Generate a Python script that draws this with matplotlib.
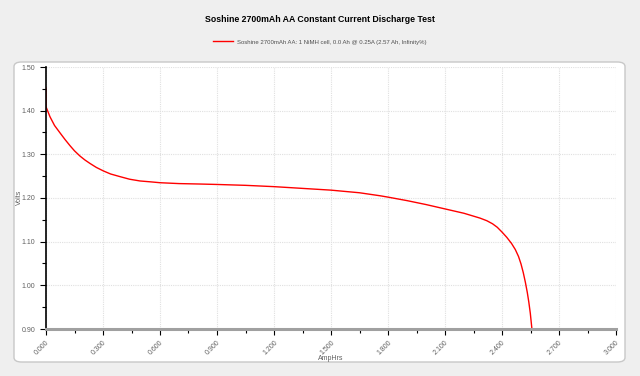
import numpy as np
import matplotlib.pyplot as plt
from matplotlib.patches import FancyBboxPatch
from matplotlib.ticker import MultipleLocator, FormatStrFormatter

plt.rcParams['font.family'] = ['Liberation Sans', 'DejaVu Sans']

# discharge curve
amp_hrs = [0.0, 0.0, 0.021, 0.045, 0.074, 0.10, 0.126, 0.15, 0.179, 0.205,
           0.232, 0.265, 0.302, 0.34, 0.389, 0.44, 0.495, 0.55, 0.6, 0.7,
           0.81, 0.9, 1.05, 1.2, 1.35, 1.5, 1.65, 1.76, 1.8, 1.9, 2.0, 2.1,
           2.2, 2.284, 2.32, 2.35, 2.375, 2.40, 2.425, 2.45, 2.47, 2.487,
           2.50, 2.512, 2.523, 2.533, 2.541, 2.549, 2.557]
volts = [1.452, 1.409, 1.386, 1.366, 1.349, 1.334, 1.320, 1.308, 1.296, 1.287,
         1.279, 1.270, 1.262, 1.255, 1.249, 1.243, 1.239, 1.237, 1.235, 1.233,
         1.232, 1.231, 1.229, 1.226, 1.222, 1.218, 1.212, 1.205, 1.202, 1.194,
         1.185, 1.175, 1.165, 1.154, 1.148, 1.141, 1.133, 1.122, 1.110, 1.096,
         1.082, 1.066, 1.049, 1.029, 1.007, 0.984, 0.962, 0.936, 0.902]

series_label = "Soshine 2700mAh AA: 1 NiMH cell, 0.0 Ah @ 0.25A (2.57 Ah, Infinity%)"
title = "Soshine 2700mAh AA Constant Current Discharge Test"

fig = plt.figure(figsize=(6.4, 3.76), dpi=100, facecolor='#efefef')

# white rounded panel behind the plot
panel = FancyBboxPatch((14 / 640, 1 - 362 / 376), 611 / 640, 300 / 376,
                       boxstyle="round,pad=0,rounding_size=0.012",
                       transform=fig.transFigure, facecolor='white',
                       edgecolor='#c8c8c8', linewidth=1.0, zorder=-5)
fig.patches.append(panel)

ax = fig.add_axes([46 / 640, 1 - 329 / 376, 570 / 640, 262 / 376], zorder=2)
ax.set_facecolor('none')
ax.plot(amp_hrs, volts, color='#ff0000', linewidth=1.0, label=series_label)

ax.set_xlim(0, 3.0)
ax.set_ylim(0.9, 1.5)
ax.xaxis.set_major_locator(MultipleLocator(0.3))
ax.xaxis.set_minor_locator(MultipleLocator(0.15))
ax.yaxis.set_major_locator(MultipleLocator(0.1))
ax.yaxis.set_minor_locator(MultipleLocator(0.05))
ax.xaxis.set_major_formatter(FormatStrFormatter('%.3f'))
ax.yaxis.set_major_formatter(FormatStrFormatter('%.2f'))

ax.grid(True, which='major', color='#e0e0e0', linestyle=(0, (1, 1)), linewidth=0.8)
ax.set_axisbelow(True)

for side in ('top', 'right'):
    ax.spines[side].set_visible(False)
ax.spines['left'].set_color('black')
ax.spines['left'].set_linewidth(1.2)
ax.spines['bottom'].set_color('#a0a0a0')
ax.spines['bottom'].set_linewidth(2.2)

ax.tick_params(axis='both', which='both', direction='out', colors='black',
               labelcolor='#606060', labelsize=5, width=0.8)
ax.tick_params(axis='both', which='major', length=4)
ax.tick_params(axis='both', which='minor', length=3)
for lbl in ax.get_xticklabels():
    lbl.set_rotation(45)
    lbl.set_ha('right')
    lbl.set_va('top')
    lbl.set_rotation_mode('anchor')

ax.set_xlabel('AmpHrs', fontsize=5, color='#606060')
ax.set_ylabel('Volts', fontsize=5, color='#606060')
ax.xaxis.set_label_coords(0.5, -(355 - 329) / 262)
ax.yaxis.set_label_coords(-(46 - 23) / 570, (329 - 197) / 262)

fig.text(0.5, 1 - 19.5 / 376, title, ha='center', va='center',
         fontsize=6.3, fontweight='bold', color='black')
fig.legend(loc='center', bbox_to_anchor=(0.5, 1 - 42 / 376), frameon=False,
           fontsize=4.35, handlelength=3.2, handletextpad=0.8,
           labelcolor='#505050')

fig.savefig('out.png', dpi=100, facecolor=fig.get_facecolor())
